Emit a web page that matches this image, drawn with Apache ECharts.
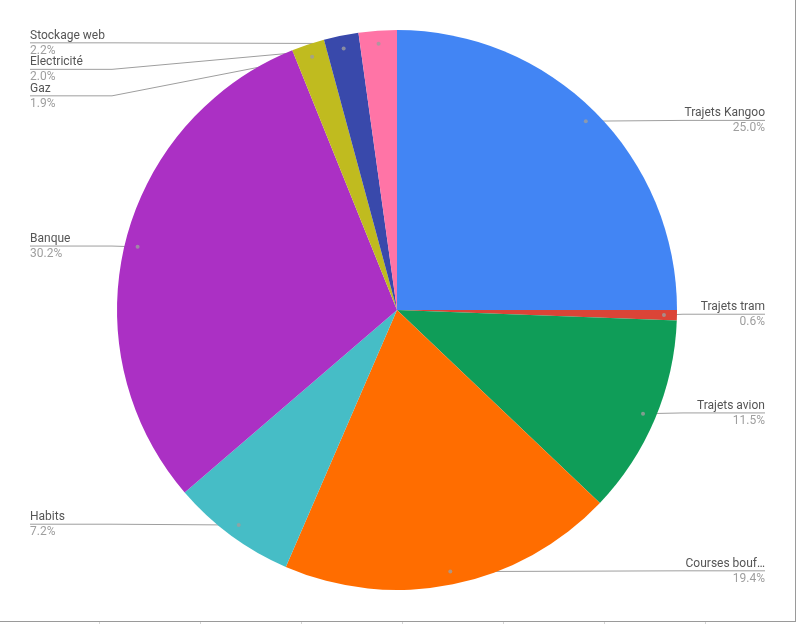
<!DOCTYPE html>
<html><head><meta charset="utf-8">
<script src="https://cdn.jsdelivr.net/npm/echarts@6/dist/echarts.min.js"></script>
<style>html,body{margin:0;padding:0;background:#fff;}#c{width:796px;height:624px;}</style>
</head><body><div id="c"></div>
<script>
const categories = ['Trajets Kangoo','Trajets tram','Trajets avion','Courses bouf…','Habits','Banque','Gaz','Electricité','Stockage web'];
const values = [25.0, 0.6, 11.5, 19.4, 7.2, 30.2, 1.9, 2.0, 2.2];
const colors = ['#4285f4','#db4437','#0f9d58','#ff6d00','#46bdc6','#ab30c4','#c0bb1f','#3949ab','#ff74a6'];

const CX = 397, CY = 310, R = 280, RD = 267;
const LEFT_EDGE = 30, RIGHT_EDGE = 765, STEP = 26.5;
const total = values.reduce((a, b) => a + b, 0);
let acc = 0;
const mids = values.map(v => { const m = acc + v / 2; acc += v; return m; });
const dots = mids.map(m => { const a = m / total * 2 * Math.PI; return [CX + RD * Math.sin(a), CY - RD * Math.cos(a)]; });
const lineY = [];
[true, false].forEach(left => {
  const idx = dots.map((d, i) => i).filter(i => (dots[i][0] < CX) === left).sort((a, b) => dots[a][1] - dots[b][1]);
  let last = -Infinity;
  idx.forEach(i => { const y = Math.max(dots[i][1] - 0.8, last + STEP); lineY[i] = y; last = y; });
});

const chart = echarts.init(document.getElementById('c'));
chart.setOption({
  animation: false,
  textStyle: { fontFamily: 'Roboto' },
  polar: { center: [CX, CY], radius: R },
  angleAxis: { type: 'value', min: 0, max: total, startAngle: 90, clockwise: true, show: false },
  radiusAxis: { type: 'value', min: 0, max: R, show: false },
  graphic: [
    { type: 'line', shape: { x1: 795.5, y1: 0, x2: 795.5, y2: 622 }, style: { stroke: '#9a9a9a', lineWidth: 1 } },
    { type: 'line', shape: { x1: 0, y1: 621.5, x2: 796, y2: 621.5 }, style: { stroke: '#9a9a9a', lineWidth: 1.2 } },
    ...[99, 200, 301, 402, 503, 604, 705].map(x => ({ type: 'line', shape: { x1: x + 0.5, y1: 622, x2: x + 0.5, y2: 624 }, style: { stroke: '#d6d6d6', lineWidth: 1 } }))
  ],
  series: [
    {
      type: 'pie',
      center: [CX, CY],
      radius: R,
      startAngle: 90,
      clockwise: true,
      avoidLabelOverlap: false,
      minShowLabelAngle: 0,
      emphasis: { disabled: true },
      data: categories.map((c, i) => ({ name: c, value: values[i], itemStyle: { color: colors[i] } })),
      label: {
        show: true,
        position: 'outside',
        alignTo: 'edge',
        edgeDistance: 30,
        padding: [2, 0, 0, 0],
        formatter: p => '{n|' + p.name + '}\n{p|' + p.value.toFixed(1) + '%}',
        rich: {
          n: { fontFamily: 'Roboto', fontSize: 12, color: '#555555', lineHeight: 14 },
          p: { fontFamily: 'Roboto', fontSize: 12, color: '#9e9e9e', lineHeight: 16 }
        }
      },
      labelLine: { show: true, showAbove: true, length: 0, length2: 10, lineStyle: { color: '#9e9e9e', width: 1 } },
      labelLayout: function (params) {
        const i = params.dataIndex;
        const isLeft = dots[i][0] < CX;
        const y = lineY[i];
        const ex = isLeft ? LEFT_EDGE : RIGHT_EDGE;
        return {
          x: ex,
          y: y,
          labelLinePoints: [[dots[i][0], dots[i][1]], [isLeft ? ex + 82 : ex - 82, y], [ex, y]]
        };
      }
    },
    {
      type: 'scatter',
      coordinateSystem: 'polar',
      symbolSize: 4,
      silent: true,
      z: 5,
      itemStyle: { color: '#9e9e9e' },
      data: mids.map(m => [RD, m])
    }
  ]
});
</script>
</body></html>
